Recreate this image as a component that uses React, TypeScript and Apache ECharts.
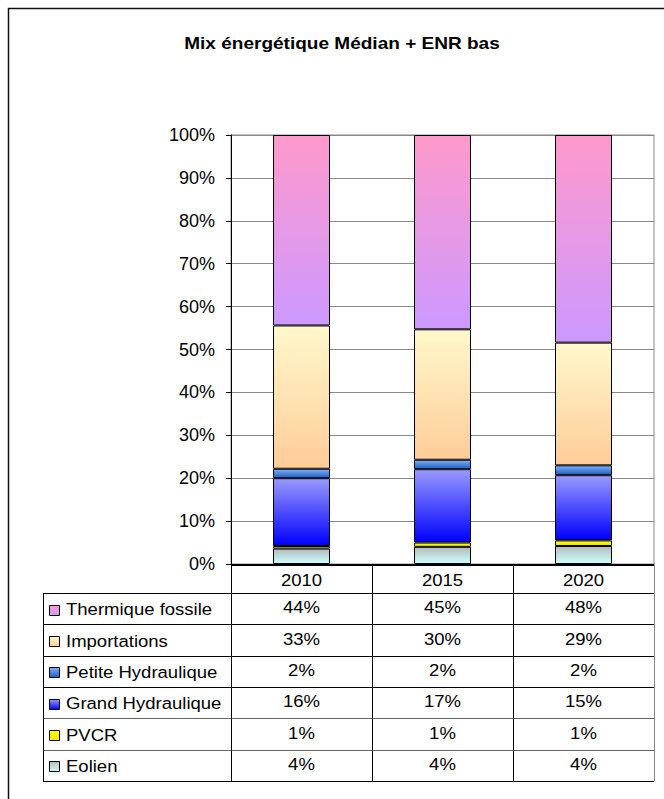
import React, { useEffect, useRef } from "react";
import * as echarts from "echarts";

const categories = ["2010", "2015", "2020"];
const eolien = [3.6, 4.0, 4.2];
const pvcr = [0.6, 1.0, 1.3];
const grandHydraulique = [15.8, 17.1, 15.2];
const petiteHydraulique = [2.2, 2.2, 2.3];
const importations = [33.4, 30.4, 28.6];
const thermiqueFossile = [44.4, 45.3, 48.4];

const seriesNames = [
  "Eolien",
  "PVCR",
  "Grand Hydraulique",
  "Petite Hydraulique",
  "Importations",
  "Thermique fossile",
];
const seriesData = [eolien, pvcr, grandHydraulique, petiteHydraulique, importations, thermiqueFossile];
const seriesColors: [string, string][] = [
  ["#b4bcbc", "#ccffff"],
  ["#ffff00", "#f2e600"],
  ["#9999ff", "#0000ff"],
  ["#7fb0ff", "#1f5fc0"],
  ["#fff8cc", "#ffcc99"],
  ["#ff99cc", "#cc99ff"],
];
const titleText = "Mix énergétique Médian + ENR bas";

const FONT = "'Liberation Sans', Arial, sans-serif";

function grad(c: [string, string]) {
  return new echarts.graphic.LinearGradient(0, 0, 0, 1, [
    { offset: 0, color: c[0] },
    { offset: 1, color: c[1] },
  ]);
}

export default function App() {
  const ref = useRef<HTMLDivElement>(null);
  useEffect(() => {
    document.body.style.margin = "0";
    if (!ref.current) return;
    const chart = echarts.init(ref.current, null, { renderer: "svg" });

    const W = 664;
    const plotLeft = 231;
    const plotRight = 654;
    const plotTop = 135;
    const plotBottom = 564;
    const tableLeft = 43;
    const headerTop = 565;
    const headerBottom = 593;
    const tableBottom = 781;
    const nRows = seriesNames.length;
    const rowH = (tableBottom - headerBottom) / nRows;
    const colW = (plotRight - plotLeft) / categories.length;
    const SX = 1.09;

    const graphics: any[] = [];
    graphics.push({
      type: "rect",
      shape: { x: 8.5, y: 8.5, width: 700, height: 900 },
      style: { fill: "none", stroke: "#111", lineWidth: 1.5 },
      silent: true,
    });
    graphics.push({
      type: "text",
      x: 342,
      y: 43,
      scaleX: 1.12,
      style: {
        text: titleText,
        font: `bold 17px ${FONT}`,
        fill: "#000",
        align: "center",
        verticalAlign: "middle",
      },
    });
    const line = (x1: number, y1: number, x2: number, y2: number, color = "#000") => {
      graphics.push({
        type: "line",
        shape: { x1, y1, x2, y2 },
        style: { stroke: color, lineWidth: 1 },
        silent: true,
      });
    };
    line(plotLeft, headerTop + 0.5, plotRight, headerTop + 0.5);
    for (let i = 0; i <= nRows; i++) {
      const y = Math.round(headerBottom + i * rowH) + 0.5;
      line(tableLeft, y, plotRight, y, i === 4 || i === 5 ? "#666" : "#000");
    }
    line(tableLeft + 0.5, headerBottom, tableLeft + 0.5, tableBottom + 0.5);
    for (let c = 0; c < categories.length; c++) {
      const x = Math.round(plotLeft + c * colW) + 0.5;
      line(x, headerTop, x, tableBottom + 0.5);
    }
    line(plotRight + 0.5, headerTop, plotRight + 0.5, tableBottom + 0.5, "#888");
    categories.forEach((cat, c) => {
      graphics.push({
        type: "text",
        x: plotLeft + (c + 0.5) * colW,
        y: (headerTop + headerBottom) / 2 + 1,
        scaleX: SX,
        style: { text: cat, font: `17px ${FONT}`, fill: "#000", align: "center", verticalAlign: "middle" },
      });
    });
    for (let r = 0; r < nRows; r++) {
      const si = nRows - 1 - r;
      const cy = headerBottom + (r + 0.5) * rowH;
      graphics.push({
        type: "rect",
        shape: { x: 49.5, y: Math.round(cy - 4) + 0.5, width: 10, height: 10 },
        style: { fill: grad(seriesColors[si]), stroke: "#000", lineWidth: 1 },
      });
      graphics.push({
        type: "text",
        x: 66,
        y: cy + 1,
        scaleX: SX,
        style: { text: seriesNames[si], font: `17px ${FONT}`, fill: "#000", align: "left", verticalAlign: "middle" },
      });
      seriesData[si].forEach((v, c) => {
        graphics.push({
          type: "text",
          x: plotLeft + (c + 0.5) * colW,
          y: cy - 1,
          scaleX: SX,
          style: {
            text: Math.round(v) + "%",
            font: `17px ${FONT}`,
            fill: "#000",
            align: "center",
            verticalAlign: "middle",
          },
        });
      });
    }

    chart.setOption({
      animation: false,
      grid: {
        left: plotLeft,
        right: W - plotRight,
        top: plotTop,
        bottom: 799 - plotBottom,
        show: true,
        borderColor: "#888",
        borderWidth: 1,
      },
      xAxis: {
        type: "category",
        data: categories,
        axisLine: { show: true, lineStyle: { color: "#000" } },
        axisTick: { show: false },
        axisLabel: { show: false },
      },
      yAxis: {
        type: "value",
        min: 0,
        max: 100,
        interval: 10,
        axisLine: { show: true, lineStyle: { color: "#000" } },
        axisTick: { show: true, length: 5, lineStyle: { color: "#000" } },
        axisLabel: {
          formatter: "{value}%",
          fontSize: 18,
          fontFamily: FONT,
          color: "#000",
          margin: 16,
        },
        splitLine: { show: true, lineStyle: { color: "#888", width: 1 } },
      },
      series: seriesNames.map((name, i) => ({
        name,
        type: "bar",
        stack: "total",
        barWidth: 57,
        data: seriesData[i],
        itemStyle: { color: grad(seriesColors[i]), borderColor: "#000", borderWidth: 1 },
      })),
      graphic: graphics,
    });
    return () => chart.dispose();
  }, []);
  return <div ref={ref} style={{ width: 664, height: 799 }} />;
}
